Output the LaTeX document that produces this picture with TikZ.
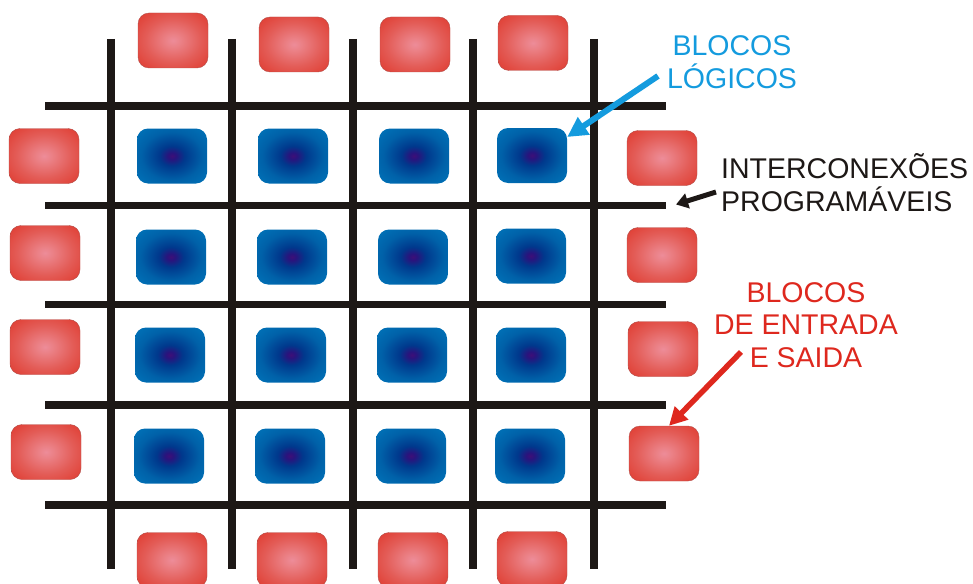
\documentclass[tikz,border=0pt]{standalone}
\usepackage{fontspec}
\setmainfont{Liberation Sans}
\usetikzlibrary{arrows.meta}
\definecolor{wireblack}{RGB}{29,24,22}
\definecolor{logicblue}{RGB}{20,155,222}
\definecolor{iored}{RGB}{222,40,30}
\pgfdeclareradialshading{redblock}{\pgfpoint{0bp}{0bp}}{
  rgb(0bp)=(.93,.55,.60);
  rgb(6bp)=(.92,.50,.52);
  rgb(20bp)=(.89,.36,.34);
  rgb(32bp)=(.88,.26,.22);
  rgb(45bp)=(.87,.21,.16);
  rgb(100bp)=(.87,.21,.16)}
\pgfdeclareradialshading{blueblock}{\pgfpoint{0bp}{0bp}}{
  rgb(0bp)=(.24,.06,.47);
  rgb(3bp)=(.16,.08,.49);
  rgb(9bp)=(0,.22,.55);
  rgb(22bp)=(0,.38,.66);
  rgb(38bp)=(0,.47,.74);
  rgb(50bp)=(0,.53,.79);
  rgb(100bp)=(0,.53,.79)}
\tikzset{
  x=1pt,y=-1pt,
  block/.style={minimum width=70pt,minimum height=55pt,inner sep=0pt,rounded corners=11pt},
  ioblock/.style={block,shading=redblock,draw=iored!55!gray,line width=.4pt},
  lgblock/.style={block,shading=blueblock},
  wire/.style={draw=wireblack,line width=7.5pt},
  lbl/.style={font=\fontsize{28.5}{32.5}\selectfont,align=center,inner sep=0pt},
}
\begin{document}
\begin{tikzpicture}
\useasboundingbox (0,0) rectangle (973,583);
% wiring
\foreach \n/\y in {1/106,2/205.5,3/304.5,4/405,5/505}{
  \coordinate (hl\n) at (45,\y); \coordinate (hr\n) at (666,\y);
  \draw[wire] (hl\n) -- (hr\n);}
\foreach \n/\x in {1/111,2/232,3/353,4/473,5/594}{
  \coordinate (vt\n) at (\x,39); \coordinate (vb\n) at (\x,569);
  \draw[wire] (vt\n) -- (vb\n);}
% logic blocks
\foreach \n/\x/\y in {
  a1/172/156,a2/293/156,a3/414/156,a4/532/155.5,
  b1/171/257,b2/292/257,b3/413/257,b4/531/256,
  c1/170/355,c2/291/355,c3/412/355,c4/531/355,
  d1/169/456,d2/290/456,d3/411/456,d4/530/456}
  \node[lgblock] (\n) at (\x,\y) {};
% io blocks
\foreach \n/\x/\y in {
  t1/173/40.5,t2/294/44.5,t3/415/44.5,t4/533/43,
  s1/172/560,s2/292/560,s3/413/560,s4/532/559,
  l1/44/156,l2/45/253,l3/45/347,l4/46/452,
  r1/662/158,r2/662/255,r3/663/349,r4/664/453.5}
  \node[ioblock] (\n) at (\x,\y) {};
% labels
\node[lbl,text=logicblue] (tb) at (732,62) {BLOCOS\\LÓGICOS};
\node[lbl,text=wireblack,align=left,anchor=west] (ti) at (721,182.5) {INTERCONEXÕES\\PROGRAMÁVEIS};
\node[lbl,text=iored] (tr) at (806,325) {BLOCOS\\DE ENTRADA\\E SAIDA};
% pointers
\coordinate (pb) at (658,76);
\coordinate (pk) at (716,192);
\coordinate (pr) at (741,352);
\coordinate (ek) at (676,204.5);
\draw[logicblue,line width=6pt,-{Triangle[length=20pt,width=20pt]}] (pb) -- ([yshift=18.5pt]a4.east);
\draw[wireblack,line width=5pt,-{Triangle[length=12pt,width=15pt]}] (pk) -- (ek);
\draw[iored,line width=5.5pt,-{Triangle[length=18pt,width=18pt]}] (pr) -- ([xshift=5pt]r4.north);
\end{tikzpicture}
\end{document}
